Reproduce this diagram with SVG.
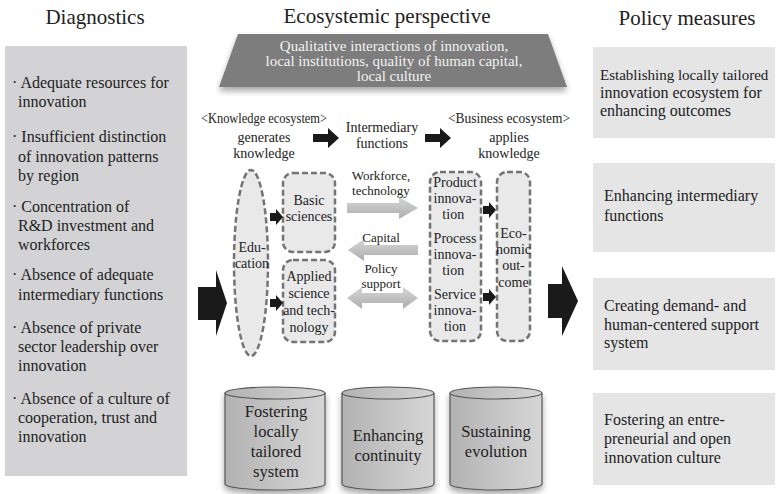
<svg xmlns="http://www.w3.org/2000/svg" width="776" height="494" viewBox="0 0 776 494" font-family="'Liberation Serif', 'Times New Roman', Times, 'DejaVu Serif', serif">
<defs>
<style>
text{font-family:'Liberation Serif','Times New Roman',Times,'DejaVu Serif',serif;fill:#222}
.title{font-size:21px;text-anchor:middle}
.lt{font-size:16px}
.mid{font-size:14px;text-anchor:middle}
.sm{font-size:14px;text-anchor:middle}
.lab{font-size:13px;text-anchor:middle}
.cy{font-size:16.5px;text-anchor:middle}
.trap{font-size:15px;text-anchor:middle;fill:#f2f2f2}
.dash{fill:#e9e9ea;stroke:#747474;stroke-width:2.5;stroke-dasharray:6 3}
.blk{fill:#1a1a1a}
.gar{fill:url(#ga)}
.cyl{fill:url(#gc);stroke:#555;stroke-width:1.2}
</style>
<linearGradient id="ga" x1="0" y1="0" x2="0" y2="1">
<stop offset="0" stop-color="#d6d6d6"/><stop offset="1" stop-color="#adadad"/>
</linearGradient>
<linearGradient id="gc" x1="0" y1="0" x2="1" y2="0">
<stop offset="0" stop-color="#b2b2b2"/><stop offset="0.6" stop-color="#c8c8c8"/><stop offset="1" stop-color="#d6d6d6"/>
</linearGradient>
<filter id="sh" x="-10%" y="-10%" width="120%" height="140%">
<feGaussianBlur in="SourceAlpha" stdDeviation="3"/><feOffset dy="4"/>
<feComponentTransfer><feFuncA type="linear" slope="0.35"/></feComponentTransfer>
<feMerge><feMergeNode/><feMergeNode in="SourceGraphic"/></feMerge>
</filter>
</defs>
<rect width="776" height="494" fill="#fff"/>

<g id="titles">
<text class="title" x="95" y="24">Diagnostics</text>
<text class="title" x="387" y="23">Ecosystemic perspective</text>
<text class="title" x="687" y="25">Policy measures</text>
</g>

<g id="diagnostics">
<rect x="5" y="46" width="182" height="430" fill="#d3d3d5"/>
<text class="lt" x="12"><tspan x="12" y="88">· Adequate resources for</tspan><tspan x="18" y="107">innovation</tspan>
<tspan x="12" y="142">· Insufficient distinction</tspan><tspan x="18" y="162">of innovation patterns</tspan><tspan x="18" y="181">by region</tspan>
<tspan x="12" y="212">· Concentration of</tspan><tspan x="18" y="231">R&amp;D investment and</tspan><tspan x="18" y="250">workforces</tspan>
<tspan x="12" y="280">· Absence of adequate</tspan><tspan x="18" y="300">intermediary functions</tspan>
<tspan x="12" y="333">· Absence of private</tspan><tspan x="18" y="352">sector leadership over</tspan><tspan x="18" y="371">innovation</tspan>
<tspan x="12" y="404">· Absence of a culture of</tspan><tspan x="18" y="423">cooperation, trust and</tspan><tspan x="18" y="442">innovation</tspan></text>
</g>

<g id="context">
<polygon points="238,34 548,34 567,87 219,87" fill="#7d7d7d" filter="url(#sh)"/>
<text class="trap"><tspan x="394" y="51">Qualitative interactions of innovation,</tspan><tspan x="394" y="66">local institutions, quality of human capital,</tspan><tspan x="394" y="81">local culture</tspan></text>
</g>

<g id="knowledge-header">
<text class="mid"><tspan x="264" y="123" textLength="126" lengthAdjust="spacingAndGlyphs">&lt;Knowledge ecosystem&gt;</tspan><tspan x="264" y="142">generates</tspan><tspan x="264" y="158">knowledge</tspan></text>
</g>
<g id="intermediary-header">
<text class="mid"><tspan x="382" y="132">Intermediary</tspan><tspan x="382" y="148">functions</tspan></text>
</g>
<g id="business-header">
<text class="mid"><tspan x="509" y="123" textLength="122" lengthAdjust="spacingAndGlyphs">&lt;Business ecosystem&gt;</tspan><tspan x="509" y="142">applies</tspan><tspan x="509" y="158">knowledge</tspan></text>
</g>

<g id="education">
<ellipse class="dash" cx="251" cy="263" rx="17" ry="93"/>
<text class="sm"><tspan x="252" y="252">Edu-</tspan><tspan x="252" y="268">cation</tspan></text>
</g>
<g id="basic-sciences">
<rect class="dash" x="283" y="173" width="52" height="79" rx="10"/>
<text class="sm"><tspan x="309" y="205">Basic</tspan><tspan x="309" y="221">sciences</tspan></text>
</g>
<g id="applied-science">
<rect class="dash" x="283" y="260" width="52" height="82" rx="10"/>
<text class="sm"><tspan x="309" y="281">Applied</tspan><tspan x="309" y="298">science</tspan><tspan x="309" y="315">and tech-</tspan><tspan x="309" y="332">nology</tspan></text>
</g>
<g id="innovation">
<rect class="dash" x="430" y="172" width="51" height="169" rx="10"/>
<text class="sm"><tspan x="455" y="187">Product</tspan><tspan x="455" y="203">innova-</tspan><tspan x="455" y="219">tion</tspan>
<tspan x="455" y="243">Process</tspan><tspan x="455" y="259">innova-</tspan><tspan x="455" y="275">tion</tspan>
<tspan x="455" y="299">Service</tspan><tspan x="455" y="315">innova-</tspan><tspan x="455" y="331">tion</tspan></text>
</g>
<g id="economic-outcome">
<rect class="dash" x="497" y="172" width="33" height="169" rx="10"/>
<text class="sm"><tspan x="513.5" y="238">Eco-</tspan><tspan x="513.5" y="254">nomic</tspan><tspan x="513.5" y="270">out-</tspan><tspan x="513.5" y="287">come</tspan></text>
</g>

<g id="connectors">
<polygon class="blk" points="313,134 328,134 328,128 339,138 328,148 328,142 313,142"/>
<polygon class="blk" points="425,134 440,134 440,128 451,138 440,148 440,142 425,142"/>
<polygon class="blk" points="270,213 276,213 276,209 283,217 276,225 276,221 270,221"/>
<polygon class="blk" points="270,299 276,299 276,295 283,303 276,311 276,307 270,307"/>
<polygon class="blk" points="483,206 489,206 489,202 496,210 489,218 489,214 483,214"/>
<polygon class="blk" points="483,293 489,293 489,289 496,297 489,305 489,301 483,301"/>
<polygon class="gar" points="347,203 399,203 399,197 418,208 399,219 399,213 347,213"/>
<polygon class="gar" points="418,245 364,245 364,239 348,250 364,261 364,255 418,255"/>
<polygon class="gar" points="347,298 362,287 362,293 403,293 403,287 418,298 403,309 403,303 362,303 362,309"/>
<polygon class="blk" points="198,287 216,287 216,270 227,303 216,336 216,320 198,320"/>
<polygon class="blk" points="548,284 562,284 562,266 578,301 562,336 562,318 548,318"/>
<text class="lab"><tspan x="381" y="180">Workforce,</tspan><tspan x="381" y="195">technology</tspan></text>
<text class="lab" x="381" y="242">Capital</text>
<text class="lab"><tspan x="381" y="273">Policy</tspan><tspan x="381" y="288">support</tspan></text>
</g>

<g id="cyl-fostering" filter="url(#sh)">
<path class="cyl" d="M225,393 L225,484 A50,6 0 0 0 325,484 L325,393"/>
<ellipse class="cyl" cx="275" cy="393" rx="50" ry="6"/>
</g>
<text class="cy"><tspan x="276" y="417">Fostering</tspan><tspan x="276" y="437">locally</tspan><tspan x="276" y="457">tailored</tspan><tspan x="276" y="477">system</tspan></text>
<g id="cyl-continuity" filter="url(#sh)">
<path class="cyl" d="M342,393 L342,484 A46,6 0 0 0 434,484 L434,393"/>
<ellipse class="cyl" cx="388" cy="393" rx="46" ry="6"/>
</g>
<text class="cy"><tspan x="388" y="441">Enhancing</tspan><tspan x="388" y="461">continuity</tspan></text>
<g id="cyl-evolution" filter="url(#sh)">
<path class="cyl" d="M450,393 L450,484 A46,6 0 0 0 542,484 L542,393"/>
<ellipse class="cyl" cx="496" cy="393" rx="46" ry="6"/>
</g>
<text class="cy"><tspan x="496" y="437">Sustaining</tspan><tspan x="496" y="457">evolution</tspan></text>

<g id="policy-1">
<rect x="593" y="47" width="182" height="91" fill="#e5e5e6"/>
<text class="lt"><tspan x="600" y="80" font-size="15">Establishing locally tailored</tspan><tspan x="600" y="98">innovation ecosystem for</tspan><tspan x="600" y="116">enhancing outcomes</tspan></text>
</g>
<g id="policy-2">
<rect x="593" y="163" width="182" height="89" fill="#e5e5e6"/>
<text class="lt"><tspan x="604" y="201">Enhancing intermediary</tspan><tspan x="604" y="221">functions</tspan></text>
</g>
<g id="policy-3">
<rect x="593" y="278" width="182" height="92" fill="#e5e5e6"/>
<text class="lt"><tspan x="604" y="311">Creating demand- and</tspan><tspan x="604" y="330">human-centered support</tspan><tspan x="604" y="348">system</tspan></text>
</g>
<g id="policy-4">
<rect x="593" y="393" width="182" height="92" fill="#e5e5e6"/>
<text class="lt"><tspan x="604" y="425">Fostering an entre-</tspan><tspan x="604" y="444">preneurial and open</tspan><tspan x="604" y="463">innovation culture</tspan></text>
</g>
</svg>
